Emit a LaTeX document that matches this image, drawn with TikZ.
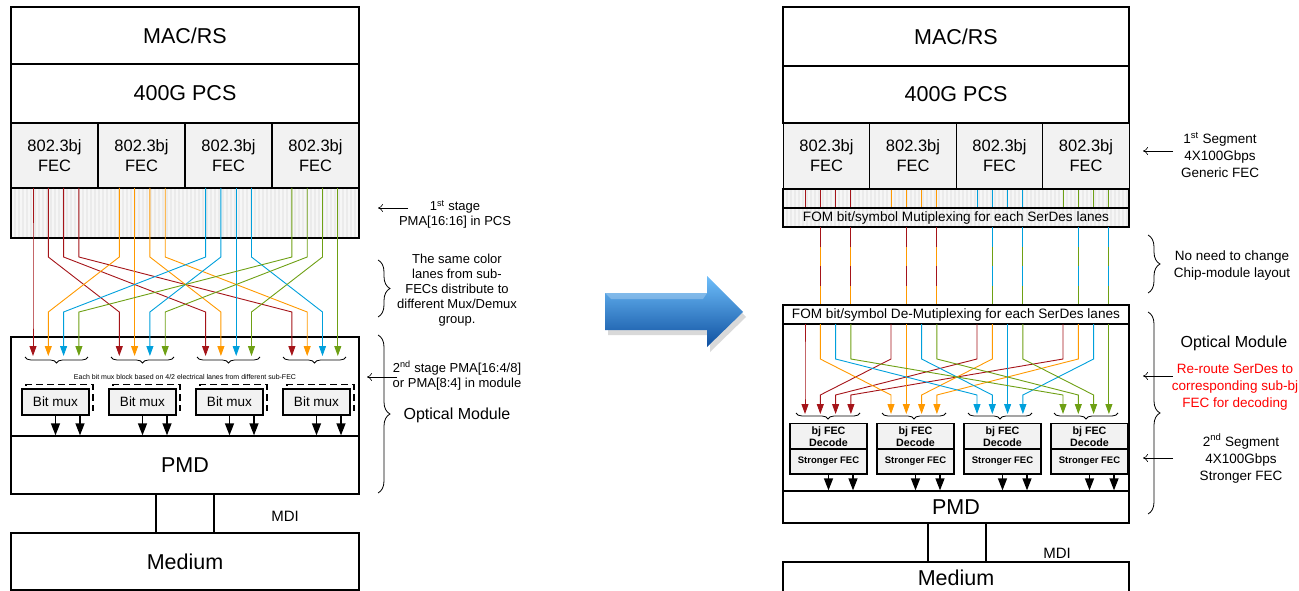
\documentclass[tikz,border=0pt]{standalone}
\usepackage{fontspec}
\setmainfont{Liberation Sans}
\usetikzlibrary{arrows.meta,decorations.pathreplacing}

\definecolor{lred}{RGB}{165,20,25}
\definecolor{lorange}{RGB}{255,153,0}
\definecolor{lblue}{RGB}{0,160,220}
\definecolor{lgreen}{RGB}{110,160,20}
\definecolor{boxgray}{RGB}{242,242,242}
\definecolor{arrowtop}{RGB}{110,190,250}
\definecolor{arrowmid}{RGB}{30,125,215}
\definecolor{arrowbot}{RGB}{15,80,160}

\tikzset{
  stackbox/.style={draw, line width=1.3pt, minimum width=348pt, inner sep=0pt,
    font=\fontsize{21.5}{24}\selectfont},
  fecbox/.style={draw, line width=1.3pt, fill=boxgray, minimum width=87pt,
    minimum height=65pt, align=center, font=\fontsize{16.5}{20}\selectfont},
  muxbox/.style={draw, line width=1.3pt, fill=boxgray, minimum width=67pt,
    minimum height=26pt, font=\fontsize{13.5}{15}\selectfont},
  muxback/.style={draw, line width=1.3pt, dash pattern=on 7pt off 4pt,
    minimum width=67pt, minimum height=26pt},
  decbox/.style={draw, line width=1.3pt, fill=boxgray, minimum width=77pt,
    minimum height=25pt, align=center, font=\bfseries\fontsize{10.7}{12}\selectfont},
  strbox/.style={decbox, font=\bfseries\fontsize{9.5}{11}\selectfont},
  lanearrow/.style={line width=0.9pt, -{Triangle[width=7pt,length=10pt]}},
  lane/.style={line width=0.9pt},
  outarrow/.style={line width=1.3pt, -{Triangle[width=9pt,length=12pt]}},
  smallbrace/.style={decorate, decoration={brace, amplitude=6pt}, line width=0.8pt},
  bigbrace/.style={decorate, decoration={brace, amplitude=12pt}, line width=0.8pt},
  pointer/.style={line width=0.6pt, -{To[length=5pt,width=8pt]}},
  notetext/.style={align=center, font=\fontsize{13}{15}\selectfont},
  sidetext/.style={align=center, font=\fontsize{13.5}{17}\selectfont},
  bigtext/.style={font=\fontsize{16}{18}\selectfont}
}

\begin{document}
\begin{tikzpicture}[x=1pt, y=-1pt]
  \useasboundingbox (0,0) rectangle (1299,591);

  % ---------- left stack ----------
  \node[stackbox, minimum height=57pt] (macL) at (185,35.5) {MAC/RS};
  \node[stackbox, minimum height=59pt] (pcsL) at (185,93.5) {400G PCS};
  \foreach \i in {1,...,4}
    \node[fecbox] (fecL\i) at (54.5+87*\i-87,155.5) {802.3bj\\FEC};

  % PMA in PCS (striped)
  \fill[gray!16] (11,188) rectangle (359,238);
  \foreach \x in {13,17,...,357}
    \draw[gray!7, line width=1.6pt] (\x,188) -- (\x,238);
  \node[draw, line width=1.3pt, minimum width=348pt, minimum height=50pt] (pmaL) at (185,213) {};

  % module, PMD, medium
  \node[stackbox, minimum height=99pt] (modL) at (185,386.5) {};
  \node[stackbox, minimum height=58pt] (pmdL) at (185,465) {PMD};
  \node[stackbox, minimum height=57pt] (medL) at (185,561.5) {Medium};
  \draw[line width=1.3pt] ([xshift=-29pt]pmdL.south) -- ([xshift=-29pt]medL.north);
  \draw[line width=1.3pt] ([xshift=29pt]pmdL.south) -- ([xshift=29pt]medL.north);
  \node[font=\fontsize{15}{17}\selectfont] (mdiL) at (285,516) {MDI};

  % lanes from sub-FECs to mux groups
  \foreach \g/\c in {1/lred,2/lorange,3/lblue,4/lgreen}
    \foreach \p in {1,...,4} {
      \pgfmathsetmacro\xa{33+86.3*(\g-1)+15.3*(\p-1)}
      \pgfmathsetmacro\xb{33+86.3*(\p-1)+15.3*(\g-1)}
      \coordinate (la\g\p) at (\xa,188);
      \coordinate (lb\g\p) at (\xb,356);
      \draw[lanearrow, \c] (la\g\p) -- (\xa,257) -- (\xb,312) -- (lb\g\p);
    }

  % bit mux blocks
  \foreach \i in {1,...,4}
    \draw[smallbrace] (88+86*\i-86,357) -- (25+86*\i-86,357);
  \node[font=\fontsize{7}{8}\selectfont] (eachL) at (185,377)
    {Each bit mux block based on 4/2 electrical lanes from different sub-FEC};
  \foreach \i in {1,...,4} {
    \node[muxback] (mk\i) at (59.5+87*\i-87,397.5) {};
    \node[muxbox] (bm\i) at (55.5+87*\i-87,402) {Bit mux};
    \coordinate (oa\i) at ([xshift=24.5pt]bm\i.south);
    \draw[outarrow] (bm\i.south) -- (bm\i.south |- pmdL.north);
    \draw[outarrow] (oa\i) -- (oa\i |- pmdL.north);
  }

  % left notes
  \node[notetext] (stA) at (455,214.5) {1\textsuperscript{st} stage\\PMA[16:16] in PCS};
  \coordinate (ptA) at (408,208);
  \draw[pointer] (ptA) -- (378,208);
  \draw[bigbrace] (378,260) -- (378,317);
  \node[notetext] (stB) at (457,290)
    {The same color\\lanes from sub-\\FECs distribute to\\different Mux/Demux\\group.};
  \draw[bigbrace] (378,335) -- (378,493);
  \node[notetext] (stC) at (457,375.5) {2\textsuperscript{nd} stage PMA[16:4/8]\\or PMA[8:4] in module};
  \coordinate (ptC) at (397,377);
  \draw[pointer] (ptC) -- (367,377);
  \node[bigtext] (omL) at (457,415) {Optical Module};

  % ---------- big arrow ----------
  \fill[black, opacity=0.15] (608,298) -- (710,298) -- (710,281) -- (746,317)
    -- (710,352) -- (710,335) -- (608,335) -- cycle;
  \shade[top color=arrowtop, middle color=arrowmid, bottom color=arrowbot]
    (605,293) -- (707,293) -- (707,276) -- (743,312) -- (707,347) -- (707,330)
    -- (605,330) -- cycle;
  \fill[white, opacity=0.25] (605,293) -- (707,293) -- (703,299) -- (611,299) -- cycle;

  % ---------- right stack ----------
  \node[stackbox, minimum width=346pt, minimum height=59pt] (macR) at (956,36.5) {MAC/RS};
  \node[stackbox, minimum width=346pt, minimum height=57pt] (pcsR) at (956,94.5) {400G PCS};
  \foreach \i in {1,...,4}
    \node[fecbox, minimum width=86.5pt, minimum height=66pt] (fecR\i) at (826.5+86.5*\i-86.5,156) {802.3bj\\FEC};

  \fill[gray!16] (783,189) rectangle (1129,227);
  \foreach \x in {785,789,...,1127}
    \draw[gray!7, line width=1.6pt] (\x,189) -- (\x,227);
  \foreach \g/\c in {1/lred,2/lorange,3/lblue,4/lgreen}
    \foreach \p in {1,...,4} {
      \pgfmathsetmacro\xa{805+86*(\g-1)+15.3*(\p-1)}
      \draw[lane, \c] (\xa,189) -- (\xa,208);
    }
  \node[draw, line width=1.3pt, minimum width=346pt, minimum height=19pt] (stripR) at (956,198.5) {};
  \node[draw, line width=1.3pt, minimum width=346pt, minimum height=19pt, inner sep=0pt,
    font=\fontsize{13.6}{15}\selectfont] (fomR) at (956,217.5)
    {FOM bit/symbol Mutiplexing for each SerDes lanes};

  % SerDes lanes between chip and module
  \foreach \x/\ca/\cb [count=\k] in {820.3/lred/lorange, 850.9/lred/lorange, 906.3/lred/lorange,
      936.9/lred/lorange, 992.3/lblue/lgreen, 1022.9/lblue/lgreen,
      1078.3/lblue/lgreen, 1108.9/lblue/lgreen} {
    \coordinate (sa\k) at (\x,227);
    \coordinate (sb\k) at (\x,305);
    \draw[lane, \cb] (sa\k) -- (sb\k);
    \draw[lane, \ca, dash pattern=on 19.5pt off 19.5pt] (sa\k) -- (sb\k);
  }

  \node[stackbox, minimum width=346pt, minimum height=186pt] (modR) at (956,398) {};
  \node[draw, line width=1.3pt, minimum width=346pt, minimum height=19pt, inner sep=0pt,
    font=\fontsize{13.6}{15}\selectfont] (demR) at (956,314.5)
    {FOM bit/symbol De-Mutiplexing for each SerDes lanes};
  \node[stackbox, minimum width=346pt, minimum height=32pt] (pmdR) at (956,507) {PMD};
  \node[stackbox, minimum width=346pt, minimum height=31pt] (medR) at (956,577.5) {Medium};
  \draw[line width=1.3pt] ([xshift=-28pt]pmdR.south) -- ([xshift=-28pt]medR.north);
  \draw[line width=1.3pt] ([xshift=30pt]pmdR.south) -- ([xshift=30pt]medR.north);
  \node[font=\fontsize{15}{17}\selectfont] (mdiR) at (1057,553) {MDI};

  % re-routed lanes to sub-bj FEC decoders
  \foreach \p/\c in {1/lred,2/lorange,3/lblue,4/lgreen}
    \foreach \g in {1,...,4} {
      \pgfmathsetmacro\xa{805+86*(\g-1)+15.3*(\p-1)}
      \pgfmathsetmacro\xb{805+86*(\p-1)+15.3*(\g-1)}
      \coordinate (ra\g\p) at (\xa,324);
      \coordinate (rb\g\p) at (\xb,414);
      \draw[lanearrow, \c] (ra\g\p) -- (\xa,359) -- (\xb,395) -- (rb\g\p);
    }
  \foreach \i in {1,...,4}
    \draw[smallbrace] (860+86*\i-86,413) -- (796+86*\i-86,413);

  \foreach \i in {1,...,4} {
    \node[decbox] (dec\i) at (828.5+87*\i-87,436.5) {bj FEC\\Decode};
    \node[strbox] (str\i) at (828.5+87*\i-87,461.5) {Stronger FEC};
    \coordinate (ob\i) at ([xshift=24.5pt]str\i.south);
    \draw[outarrow] (str\i.south) -- (str\i.south |- pmdR.north);
    \draw[outarrow] (ob\i) -- (ob\i |- pmdR.north);
  }

  % right notes
  \node[sidetext] (sgA) at (1220,155) {1\textsuperscript{st} Segment\\4X100Gbps\\Generic FEC};
  \coordinate (ptR1) at (1173,151);
  \draw[pointer] (ptR1) -- (1143,151);
  \draw[bigbrace] (1148,235) -- (1148,293);
  \node[sidetext] (sgB) at (1232,265.5) {No need to change\\Chip-module layout};
  \draw[bigbrace] (1148,312) -- (1148,514);
  \node[bigtext] (omR) at (1234,343) {Optical Module};
  \node[sidetext, red] (sgC) at (1235,387) {Re-route SerDes to\\corresponding sub-bj\\FEC for decoding};
  \coordinate (ptR2) at (1173,376);
  \draw[pointer] (ptR2) -- (1143,376);
  \node[sidetext] (sgD) at (1241,458.5) {2\textsuperscript{nd} Segment\\4X100Gbps\\Stronger FEC};
  \coordinate (ptR3) at (1173,458);
  \draw[pointer] (ptR3) -- (1143,458);
\end{tikzpicture}
\end{document}
